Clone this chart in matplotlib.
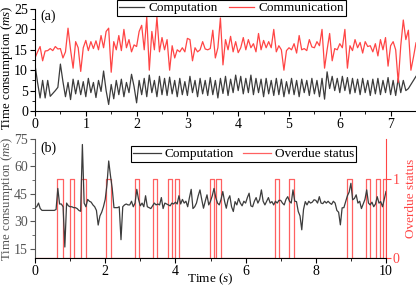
import matplotlib
matplotlib.use("Agg")
import matplotlib.pyplot as plt
import numpy as np

plt.rcParams['font.family'] = 'serif'
plt.rcParams['font.serif'] = ['Liberation Serif', 'DejaVu Serif']
plt.rcParams['mathtext.fontset'] = 'custom'
plt.rcParams['mathtext.rm'] = 'Liberation Serif'
plt.rcParams['mathtext.it'] = 'Liberation Serif:italic'

# ---- panel (a): sampled every 0.05 s ----
dt_a = 0.05
comp_a = [11.3, 7.0, 3.2, 7.5, 3.2, 7.5, 3.6, 4.3, 5.0, 5.8,
          11.5, 7.2, 3.5, 7.0, 2.8, 7.8, 4.2, 7.5, 4.0, 7.2,
          3.5, 8.0, 4.5, 7.0, 3.3, 7.5, 4.8, 9.8, 5.0, 1.6,
          6.5, 3.0, 7.5, 4.0, 7.8, 3.5, 7.0, 4.5, 9.0, 6.0,
          2.0, 7.5, 4.0, 8.0, 3.5, 8.8, 4.5, 7.5, 3.5, 8.5,
          4.0, 8.0, 3.8, 8.3, 4.2, 7.5, 3.5, 8.0, 4.0, 7.2,
          3.8, 8.5, 4.5, 7.5, 3.5, 8.0, 4.2, 7.5, 3.8, 8.2,
          4.0, 7.5, 3.2, 8.0, 4.3, 8.5, 3.8, 7.8, 4.5, 8.8,
          5.0, 8.5, 4.2, 8.0, 4.5, 8.8, 4.0, 8.0, 4.5, 7.8,
          3.5, 8.0, 4.2, 7.5, 3.8, 8.0, 4.0, 7.8, 3.5, 7.2,
          4.2, 8.0, 4.0, 7.5, 3.5, 7.8, 4.5, 7.5, 3.8, 8.0,
          4.2, 7.5, 3.5, 8.0, 2.9, 9.6, 5.5, 8.5, 5.0, 8.0,
          4.5, 8.5, 5.0, 8.2, 4.2, 8.0, 4.5, 7.8, 4.0, 8.0,
          4.5, 7.5, 3.8, 7.8, 4.2, 8.0, 4.0, 7.5, 4.5, 8.2,
          4.0, 7.5, 3.8, 8.0, 4.5, 7.5, 5.0, 5.5, 6.5, 7.5,
          8.5]
comm_a = [13.0, 14.5, 15.8, 12.3, 14.7, 14.8, 15.3, 14.8, 15.8, 15.2,
          15.3, 13.0, 14.5, 20.3, 15.0, 10.5, 17.0, 15.5, 9.7, 15.5,
          17.3, 14.8, 17.0, 15.3, 17.2, 15.0, 18.5, 15.5, 19.5, 20.3,
          9.5, 17.0, 15.0, 18.5, 14.8, 20.0, 15.5, 17.5, 14.5, 16.2,
          15.8, 19.5, 21.0, 15.0, 23.0, 10.0, 19.5, 15.0, 23.0, 14.5,
          18.0, 15.0, 17.5, 10.0, 16.0, 13.0, 15.0, 14.5, 15.5, 14.5,
          17.8, 17.5, 12.3, 15.5, 14.5, 15.0, 17.0, 15.2, 15.0, 15.3,
          19.8, 13.0, 15.5, 22.8, 11.3, 17.5, 15.0, 18.3, 14.5, 17.0,
          14.3, 15.5, 18.0, 15.0, 17.5, 15.5, 16.5, 14.5, 19.0, 15.0,
          17.3, 15.5, 17.0, 15.5, 20.0, 14.5, 16.0, 15.0, 10.0, 14.8,
          15.5, 15.0, 16.5, 14.2, 18.5, 15.0, 15.3, 14.8, 17.5, 15.7,
          15.5, 17.0, 16.0, 20.0, 10.5, 15.0, 19.0, 12.3, 15.3, 15.0,
          16.5, 15.5, 20.0, 10.5, 16.0, 14.8, 17.5, 15.5, 16.8, 14.2,
          17.0, 15.8, 16.0, 14.5, 16.5, 13.5, 17.5, 15.0, 18.0, 11.0,
          16.0, 17.0, 15.0, 7.0, 16.0, 22.3, 17.5, 19.8, 10.0, 13.2,
          16.7]

# ---- panel (b): sampled every 0.05 s ----
dt_b = 0.05
comp_b = [37.5, 38, 40, 37, 36, 36, 36, 36, 36, 36,
          36, 36, 36.5, 48, 39.5, 39.5, 38, 16, 40, 38.5,
          38, 38, 37.5, 37.5, 37, 36, 35.5, 72, 40, 38,
          42, 41, 40.5, 39, 38, 36, 28, 33, 35, 38,
          42, 50, 63, 55, 48, 37.5, 37.5, 37.5, 38, 20,
          38, 39, 39.5, 39, 39, 41, 38, 40, 47.5, 42,
          38.5, 40, 38, 44, 38, 37.5, 37, 38.5, 40, 39,
          39.5, 39, 43, 37, 40, 39.5, 39, 38.5, 40, 39.5,
          40.5, 39.5, 44, 39.5, 42, 40, 41, 38, 43, 47.5,
          37, 38, 40, 44, 47.2, 42, 37.2, 41, 44.5, 39,
          41, 44, 48, 43, 40, 39, 42, 46.3, 41, 37.2,
          42, 44, 38, 35.4, 40.8, 39, 42.5, 40, 38.5, 41,
          40, 43, 45.4, 38.5, 38, 41, 43, 40, 42, 47.2,
          41, 39, 41, 43, 40, 40.8, 39, 41, 40, 41.5,
          41.5, 40, 39, 42, 43.5, 41, 40, 47.2, 41, 40.8,
          35.4, 33, 25.4, 36.5, 40.8, 39, 41, 40, 40.5, 41.8,
          41.5, 40, 43.5, 40, 39.7, 41, 40, 41, 40, 39.3,
          41, 40, 36, 35, 28.1, 37.4, 37.5, 40.8, 44, 46,
          50.8, 41.8, 42.5, 44.5, 40, 41, 37, 39.5, 42, 47.2,
          40, 39, 40.5, 38, 39.5, 43.5, 40, 40.8, 38, 42,
          46.3]
overdue_start = [0.62, 1.00, 1.31, 2.03, 2.86, 3.36, 3.78, 3.99,
                 4.99, 5.16, 6.84, 7.25, 8.89, 9.42, 9.72, 9.92]
overdue_end = [0.81, 1.11, 1.45, 2.16, 2.97, 3.48, 3.90, 4.11,
               5.11, 5.29, 6.96, 7.37, 9.02, 9.55, 9.84, 10.0]

gray = '#3c3c3c'
red = '#ff4545'
W, H = 416, 286

t_a = np.arange(len(comp_a)) * dt_a
t_b = np.arange(len(comp_b)) * dt_b

# overdue status as a 0/1 step trace
sx, sy = [0.0], [0]
for s, e in zip(overdue_start, overdue_end):
    sx += [s, s, e, e]
    sy += [0, 1, 1, 0]
sx.append(10.0)
sy.append(0)

fig = plt.figure(figsize=(W / 100, H / 100), dpi=100)

def style(ax):
    ax.spines['top'].set_visible(False)
    ax.spines['right'].set_visible(False)
    ax.tick_params(direction='out', length=3.5, width=0.8, labelsize=10, pad=1.5)
    ax.tick_params(which='minor', direction='out', length=2, width=0.6)

# ---- (a) ----
ax1 = fig.add_axes([35 / W, 1 - 111 / H, 381 / W, 102 / H])
ax1.plot(t_a, comp_a, color=gray, lw=0.9, label='Computation')
ax1.plot(t_a, comm_a, color=red, lw=0.9, label='Communication')
ax1.set_xlim(0, 7.5)
ax1.set_ylim(0, 25)
ax1.set_xticks(range(0, 8))
ax1.set_xticks(np.arange(0.5, 7.5, 1), minor=True)
ax1.set_yticks(range(0, 26, 5))
ax1.set_yticks(np.arange(2.5, 25, 5), minor=True)
style(ax1)
ax1.set_ylabel('Time consumption ($ms$)', fontsize=9.3)
ax1.yaxis.set_label_coords(-0.052, 0.42)
ax1.text(5 / 381, 0.93, '(a)', transform=ax1.transAxes, fontsize=10, va='center')
ax1.legend(loc='upper right', bbox_to_anchor=(346 / W, 1.0), bbox_transform=fig.transFigure,
           ncol=2, fontsize=9.5, frameon=True, fancybox=False, edgecolor='black',
           framealpha=1, borderaxespad=0, borderpad=0.15, handlelength=1.9,
           handletextpad=0.3, columnspacing=0.9).get_frame().set_linewidth(0.8)

# ---- (b) ----
ax2 = fig.add_axes([35 / W, 1 - 258 / H, 351 / W, 119 / H])
l1, = ax2.plot(t_b, comp_b, color=gray, lw=0.9, label='Computation', zorder=3)
ax2.set_xlim(0, 10)
ax2.set_ylim(10, 75)
ax2.set_xticks(range(0, 11, 2))
ax2.set_xticks(range(1, 10, 2), minor=True)
ax2.set_yticks(range(15, 76, 15))
ax2.set_yticks(np.arange(22.5, 75, 15), minor=True)
style(ax2)
ax2.spines['left'].set_color('#555555')
ax2.tick_params(axis='y', which='both', colors='#555555')
ax2.set_ylabel('Time consumption ($ms$)', fontsize=9.3, color='#555555')
ax2.yaxis.set_label_coords(-0.056, 0.5)
ax2.set_xlabel('Time ($s$)', fontsize=9.5)
ax2.xaxis.set_label_coords(0.5, -0.115)
ax2.text(5 / 351, 0.92, '(b)', transform=ax2.transAxes, fontsize=10, va='center')

ax3 = ax2.twinx()
l2, = ax3.plot(sx, sy, color=red, lw=0.9, alpha=0.85, label='Overdue status')
ax3.set_ylim(0, 1.5)
ax3.set_yticks([0, 1])
for k in ['top', 'left', 'bottom']:
    ax3.spines[k].set_visible(False)
ax3.spines['right'].set_color(red)
ax3.tick_params(axis='y', colors=red, direction='out', length=3.5, width=0.8,
                labelsize=10, pad=1.5)
ax3.set_ylabel('Overdue status', fontsize=9.5, color=red)
ax3.yaxis.set_label_coords(1.055, 0.5)
ax2.set_zorder(ax3.get_zorder() + 1)
ax2.patch.set_visible(False)

leg = ax2.legend([l1, l2], ['Computation', 'Overdue status'], loc='upper right',
                 bbox_to_anchor=(356 / W, 1 - 146 / H), bbox_transform=fig.transFigure,
                 ncol=2, fontsize=9.5, frameon=True, fancybox=False, edgecolor='black',
                 framealpha=1, borderaxespad=0, borderpad=0.15, handlelength=2.1,
                 handletextpad=0.3, columnspacing=0.7)
leg.get_frame().set_linewidth(0.8)

fig.savefig('out.png', dpi=100)
